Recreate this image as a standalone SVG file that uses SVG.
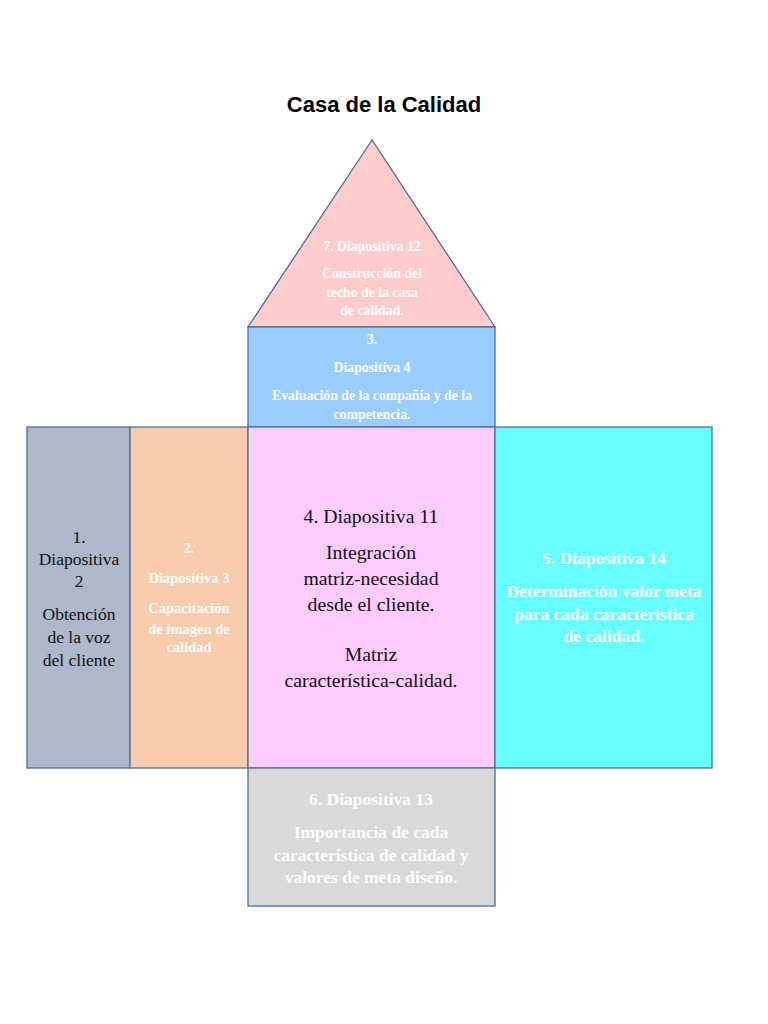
<svg xmlns="http://www.w3.org/2000/svg" width="768" height="1024" viewBox="0 0 768 1024">
<style>
.box{stroke:#4a6f9a;stroke-width:1.3}
.w{font-family:"Liberation Serif",serif;font-weight:bold;fill:#ffffff;text-anchor:middle}
.k{font-family:"Liberation Serif",serif;fill:#111111;text-anchor:middle}
.title{font-family:"Liberation Sans",Arial,sans-serif;font-weight:bold;font-size:22px;fill:#000;text-anchor:middle}
</style>
<rect width="768" height="1024" fill="#ffffff"/>
<text class="title" x="384" y="112">Casa de la Calidad</text>
<g id="n7">
<polygon class="box" points="372,140 248,327 495,327" fill="#ffcccc"/>
<text class="w" font-size="13.8" x="372" y="251">7. Diapositiva 12</text>
<text class="w" font-size="13.8" x="372" y="278">Construcción del</text>
<text class="w" font-size="13.8" x="372" y="297">techo de la casa</text>
<text class="w" font-size="13.8" x="372" y="315">de calidad.</text>
</g>
<g id="n3">
<rect class="box" x="248" y="327" width="247" height="100" fill="#99ccff"/>
<text class="w" font-size="13.8" x="372" y="344">3.</text>
<text class="w" font-size="13.8" x="372" y="372">Diapositiva 4</text>
<text class="w" font-size="13.8" x="372" y="400">Evaluación de la compañía y de la</text>
<text class="w" font-size="13.8" x="372" y="419">competencia.</text>
</g>
<g id="n1">
<rect class="box" x="27" y="427" width="103" height="341" fill="#adb9ca"/>
<text class="k" font-size="17.5" x="79" y="543">1.</text>
<text class="k" font-size="17.5" x="79" y="565">Diapositiva</text>
<text class="k" font-size="17.5" x="79" y="587">2</text>
<text class="k" font-size="17.5" x="79" y="620">Obtención</text>
<text class="k" font-size="17.5" x="79" y="643">de la voz</text>
<text class="k" font-size="17.5" x="79" y="666">del cliente</text>
</g>
<g id="n2">
<rect class="box" x="130" y="427" width="118" height="341" fill="#f8cbad"/>
<text class="w" font-size="14.5" x="189" y="553">2.</text>
<text class="w" font-size="14.5" x="189" y="583">Diapositiva 3</text>
<text class="w" font-size="14.5" x="189" y="613">Capacitación</text>
<text class="w" font-size="14.5" x="189" y="634">de imagen de</text>
<text class="w" font-size="14.5" x="189" y="652">calidad</text>
</g>
<g id="n4">
<rect class="box" x="248" y="427" width="247" height="341" fill="#ffccff"/>
<text class="k" font-size="19.8" x="371" y="523">4. Diapositiva 11</text>
<text class="k" font-size="19.8" x="371" y="559">Integración</text>
<text class="k" font-size="19.8" x="371" y="585">matriz-necesidad</text>
<text class="k" font-size="19.8" x="371" y="611">desde el cliente.</text>
<text class="k" font-size="19.8" x="371" y="661">Matriz</text>
<text class="k" font-size="19.8" x="371" y="687">característica-calidad.</text>
</g>
<g id="n5">
<rect class="box" x="495" y="427" width="217" height="341" fill="#66ffff"/>
<text class="w" font-size="17.5" x="604" y="564">5. Diapositiva 14</text>
<text class="w" font-size="17.5" x="604" y="597">Determinación valor meta</text>
<text class="w" font-size="17.5" x="604" y="620">para cada característica</text>
<text class="w" font-size="17.5" x="604" y="642">de calidad.</text>
</g>
<g id="n6">
<rect class="box" x="248" y="768" width="247" height="138" fill="#d9d9d9"/>
<text class="w" font-size="17.5" x="371" y="805">6. Diapositiva 13</text>
<text class="w" font-size="17.5" x="371" y="838">Importancia de cada</text>
<text class="w" font-size="17.5" x="371" y="861">característica de calidad y</text>
<text class="w" font-size="17.5" x="371" y="883">valores de meta diseño.</text>
</g>
<g id="connectors"></g>
</svg>
